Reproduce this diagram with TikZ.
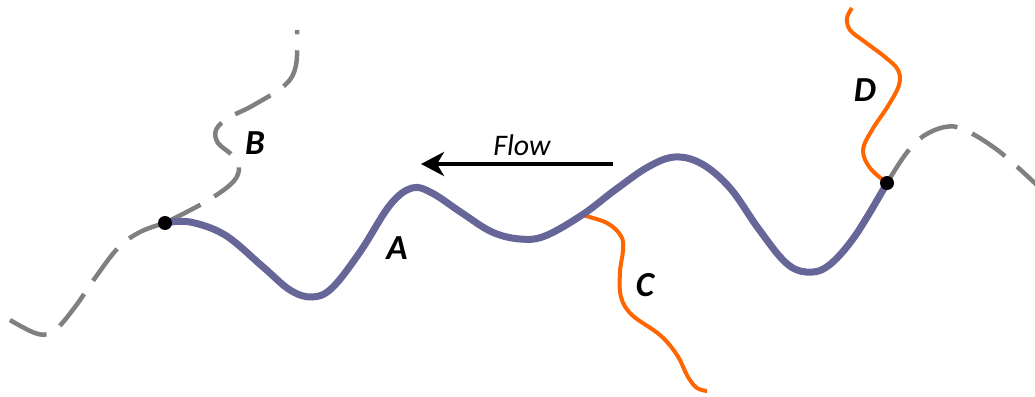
\documentclass[tikz,border=0pt]{standalone}
\usepackage{fontspec}
\setmainfont{Carlito}
\usetikzlibrary{arrows.meta}
\definecolor{riverblue}{RGB}{102,102,153}
\definecolor{riverorange}{RGB}{255,102,0}
\definecolor{rivergray}{RGB}{128,128,128}
\begin{document}
\begin{tikzpicture}[x=0.02cm,y=-0.02cm,
  main/.style={draw=riverblue,line width=0.14cm,line cap=round},
  trib/.style={draw=riverorange,line width=0.08cm},
  other/.style={draw=rivergray,line width=0.09cm,dash pattern=on 0.8cm off 0.32cm},
  lbl/.style={font=\fontsize{20}{24}\selectfont\bfseries\itshape,inner sep=0pt},
  junction/.style={circle,fill=black,inner sep=0pt,minimum size=0.28cm}]
\useasboundingbox (0,0) rectangle (1035,396);
\coordinate (J1) at (165,223);
\coordinate (J2) at (887,183);
\coordinate (JC) at (582,215);
% gray dashed rivers
\draw[other] plot[smooth,tension=0.6] coordinates {(10,320) (38,334) (55,330) (75,307) (95,278) (118,248) (140,232) (165,223)};
\draw[other] plot[smooth,tension=0.6] coordinates {(165,223) (207,201) (233,182) (239,167) (232,155) (218,143) (216,130) (228,118) (252,106) (285,85) (296,65) (297,30)};
\draw[other] plot[smooth,tension=0.6] coordinates {(887,183) (905,155) (922,137) (945,127) (965,130) (1000,152) (1040,188)};
% tributaries
\draw[trib] plot[smooth,tension=0.6] coordinates {(582,215) (607,223) (621,236) (623,250) (620,272) (621,297) (632,315) (660,335) (677,355) (688,377) (697,388) (707,391)};
\draw[trib] plot[smooth,tension=0.6] coordinates {(887,183) (870,168) (863,150) (872,130) (888,106) (899,85) (898,70) (885,57) (865,42) (850,30) (847,18) (852,8)};
% main river A
\draw[main] plot[smooth,tension=0.6] coordinates {(165,223) (190,222) (225,235) (262,266) (290,290) (312,297) (332,288) (360,252) (390,205) (412,188) (432,193) (462,213) (492,232) (520,239) (545,236) (582,215) (615,190) (648,167) (675,157) (702,164) (730,188) (758,228) (785,262) (806,272) (828,266) (855,236) (887,183)};
\node[junction] (d1) at (J1) {};
\node[junction] (d2) at (J2) {};
% flow arrow
\coordinate (fs) at (613,164);
\coordinate (fe) at (421,164);
\draw[line width=0.08cm,-{Stealth[length=0.46cm,width=0.48cm,inset=0.14cm]}] (fs) -- (fe);
\node[font=\fontsize{17}{20}\selectfont\itshape,inner sep=0pt] (flow) at (522,145) {Flow};
\node[lbl] (A) at (397,248) {A};
\node[lbl] (B) at (255,143) {B};
\node[lbl] (C) at (645,285) {C};
\node[lbl] (D) at (865,90) {D};
\end{tikzpicture}
\end{document}
